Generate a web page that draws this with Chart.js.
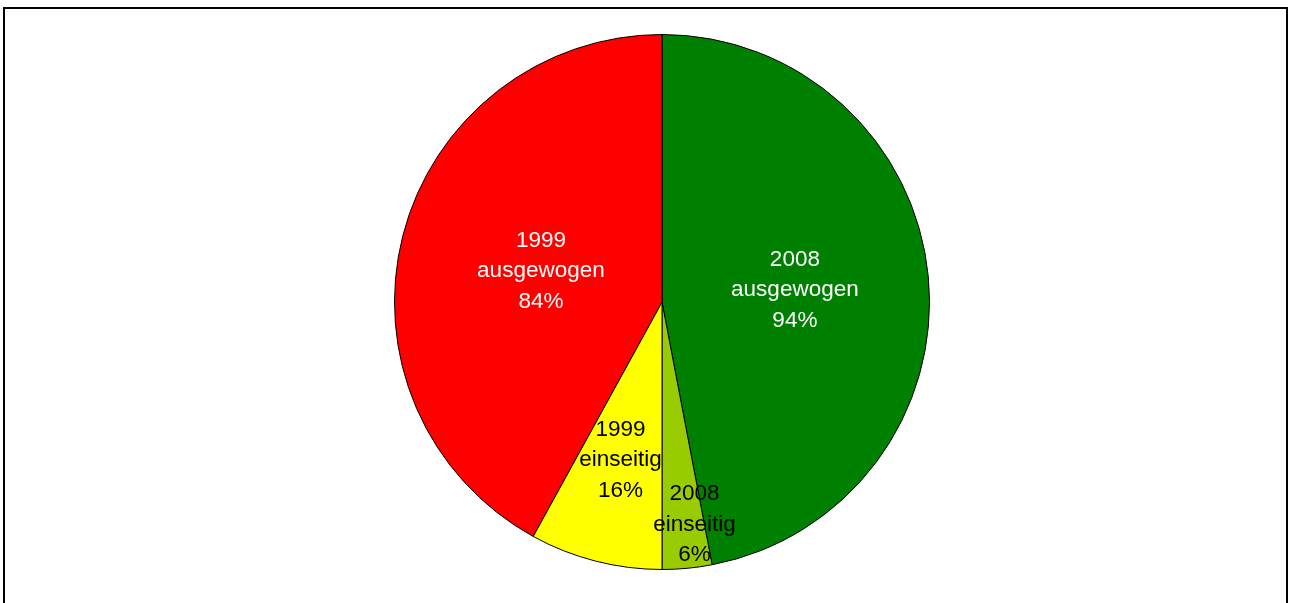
<!DOCTYPE html>
<html>
<head>
<meta charset="utf-8">
<script src="https://cdn.jsdelivr.net/npm/chart.js@4"></script>
<style>
  html, body { margin: 0; padding: 0; background: #fff; overflow: hidden; }
  #wrap { position: relative; width: 1290px; height: 603px; }
  #frame { position: absolute; left: 3px; top: 7px; width: 1281px; height: 700px; border: 2px solid #000; pointer-events: none; }
  canvas { position: absolute; left: 0; top: 0; }
</style>
</head>
<body>
<div id="wrap">
  <canvas id="c" width="1290" height="603"></canvas>
  <div id="frame"></div>
</div>
<script>
// Data (half-pie shares: each year's distribution occupies half of the circle)
const categories = ["2008 ausgewogen", "2008 einseitig", "1999 einseitig", "1999 ausgewogen"];
const labelLines = [["2008", "ausgewogen", "94%"], ["2008", "einseitig", "6%"], ["1999", "einseitig", "16%"], ["1999", "ausgewogen", "84%"]];
const percentValues = [94, 6, 16, 84];

// Styles
const sliceColors = ["#008000", "#99CC00", "#FFFF00", "#FF0000"];
const labelColors = ["#FFFFFF", "#000000", "#000000", "#FFFFFF"];
const labelRadiusFrac = [0.50, 0.83, 0.60, 0.47];
const labelAngleOffsetDeg = [-1.1, -3, 0.6, 1.2];

const sliceValues = percentValues.map(v => v / 2);

const labelPlugin = {
  id: 'sliceLabels',
  afterDatasetsDraw(chart) {
    const ctx = chart.ctx;
    const meta = chart.getDatasetMeta(0);
    ctx.save();
    ctx.font = '22.5px "Liberation Sans", Arial, sans-serif';
    ctx.textAlign = 'center';
    ctx.textBaseline = 'middle';
    meta.data.forEach((arc, i) => {
      const p = arc.getProps(['x', 'y', 'startAngle', 'endAngle', 'outerRadius'], true);
      const a = (p.startAngle + p.endAngle) / 2 + labelAngleOffsetDeg[i] * Math.PI / 180;
      const r = p.outerRadius * labelRadiusFrac[i];
      const cx = p.x + Math.cos(a) * r;
      const cy = p.y + Math.sin(a) * r + 3;
      ctx.fillStyle = labelColors[i];
      const lines = labelLines[i];
      const lh = 30.5;
      lines.forEach((t, k) => {
        ctx.fillText(t, cx, cy + (k - (lines.length - 1) / 2) * lh);
      });
    });
    ctx.restore();
  }
};

new Chart(document.getElementById('c'), {
  type: 'pie',
  data: {
    labels: categories,
    datasets: [{
      data: sliceValues,
      backgroundColor: sliceColors,
      borderColor: '#000000',
      borderWidth: 1
    }]
  },
  options: {
    responsive: false,
    animation: false,
    layout: { padding: { left: 34, right: 0, top: 34, bottom: 33 } },
    plugins: {
      legend: { display: false },
      tooltip: { enabled: false },
      title: { display: false }
    }
  },
  plugins: [labelPlugin]
});
</script>
</body>
</html>
